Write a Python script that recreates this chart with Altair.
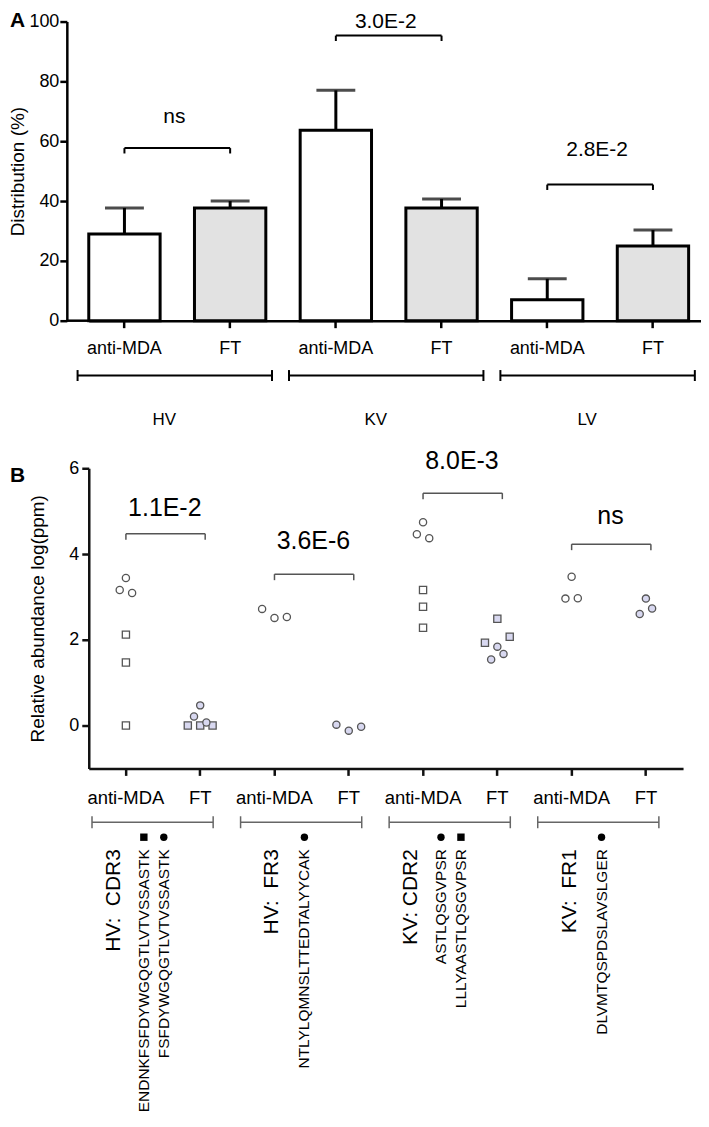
import altair as alt
import pandas as pd

FONT = "Liberation Sans"

# ---------------- Panel A data ----------------
a_groups = ["HV", "HV", "KV", "KV", "LV", "LV"]
a_conds = ["anti-MDA", "FT", "anti-MDA", "FT", "anti-MDA", "FT"]
a_means = [29.0, 37.7, 63.7, 37.7, 7.0, 25.0]
a_errs = [8.7, 2.3, 13.3, 3.0, 7.0, 5.3]
a_pairs = ["HV", "KV", "LV"]
a_bracket_y = [57.7, 95.3, 45.5]
a_label_y = [68.0, 100.0, 57.0]
a_pvalues = ["ns", "3.0E-2", "2.8E-2"]

# ---------------- Panel B data ----------------
b_pairs = ["HV CDR3", "HV FR3", "KV CDR2", "KV FR1"]
b_conds = ["anti-MDA", "FT"]
b_pt_pair = (["HV CDR3"] * 12 + ["HV FR3"] * 6 + ["KV CDR2"] * 12 + ["KV FR1"] * 6)
b_pt_cond = (["anti-MDA"] * 6 + ["FT"] * 6 + ["anti-MDA"] * 3 + ["FT"] * 3
             + ["anti-MDA"] * 6 + ["FT"] * 6 + ["anti-MDA"] * 3 + ["FT"] * 3)
b_pt_value = [2.12, 1.47, 0.0, 3.44, 3.16, 3.09,
              0.0, 0.0, 0.0, 0.47, 0.21, 0.07,
              2.72, 2.51, 2.53,
              0.02, -0.12, -0.03,
              3.16, 2.77, 2.28, 4.74, 4.46, 4.37,
              2.49, 2.07, 1.93, 1.84, 1.67, 1.54,
              3.47, 2.96, 2.97,
              2.96, 2.73, 2.60]
b_pt_shape = ["s", "s", "s", "o", "o", "o",
              "s", "s", "s", "o", "o", "o",
              "o", "o", "o",
              "o", "o", "o",
              "s", "s", "s", "o", "o", "o",
              "s", "s", "s", "o", "o", "o",
              "o", "o", "o",
              "o", "o", "o"]
b_pt_slot = [0, 0, 0, 0, -0.5, 0.5,
             -1, 0, 1, 0, -0.5, 0.5,
             -1, 0, 1,
             -1, 0, 1,
             0, 0, 0, 0, -0.5, 0.5,
             0, 1, -1, 0, 0.5, -0.5,
             0, -0.5, 0.5,
             0, 0.5, -0.5]
b_bracket_y = [4.47, 3.53, 5.42, 4.23]
b_label_y = [5.07, 4.30, 6.16, 4.88]
b_pvalues = ["1.1E-2", "3.6E-6", "8.0E-3", "ns"]
b_regions = ["HV:\u00a0 CDR3", "HV:\u00a0 FR3", "KV: CDR2", "KV:\u00a0 FR1"]
b_seqs = [["ENDNKFSFDYWGQGTLVTVSSASTK", "FSFDYWGQGTLVTVSSASTK"],
          ["NTLYLQMNSLTTEDTALYYCAK"],
          ["ASTLQSGVPSR", "LLLYAASTLQSGVPSR"],
          ["DLVMTQSPDSLAVSLGER"]]
b_seq_marks = [["s", "o"], ["o"], ["o", "s"], ["o"]]

# ================= Panel A =================
cat_a = [f"{g}|{c}" for g, c in zip(a_groups, a_conds)]
df_a = pd.DataFrame({"cat": cat_a, "group": a_groups, "cond": a_conds,
                     "mean": a_means, "err": a_errs})
df_a_pairs = pd.DataFrame({"start": [f"{p}|anti-MDA" for p in a_pairs],
                           "end": [f"{p}|FT" for p in a_pairs],
                           "by": a_bracket_y, "ly": a_label_y,
                           "p": a_pvalues, "group": a_pairs})

SHIFT = 22          # panel A's y axis sits 22px left of panel B's
WA, HA = 614, 300
PIN, POUT = 0.325, 0.0585
step_a = WA / (len(cat_a) - PIN + 2 * POUT)
bw_a = step_a * (1 - PIN)
scale_xa = alt.Scale(type="band", domain=cat_a, paddingInner=PIN, paddingOuter=POUT,
                     align=0)
axis_xa = alt.Axis(title=None, labelExpr="split(datum.label, '|')[1]", labelAngle=0,
                   labelFontSize=18, labelColor="black", labelPadding=12,
                   tickSize=7, tickWidth=2.5, tickColor="black",
                   domainWidth=2.5, domainColor="black", grid=False, labelFont=FONT)
scale_ya = alt.Scale(domain=[0, 100], nice=False, zero=True)
axis_ya = alt.Axis(title="Distribution (%)", values=[0, 20, 40, 60, 80, 100],
                   offset=SHIFT,
                   labelFontSize=18, labelColor="black", labelPadding=1,
                   titleFontSize=19, titleFontWeight="normal", titleColor="black",
                   titlePadding=1, tickSize=7, tickWidth=2.5, tickColor="black",
                   domainWidth=2.5, domainColor="black", grid=False,
                   labelFont=FONT, titleFont=FONT)


def xa(field):
    return alt.X(f"{field}:N", scale=scale_xa, axis=axis_xa)


def ya(field):
    return alt.Y(f"{field}:Q", scale=scale_ya, axis=axis_ya)


base_a = alt.Chart(df_a)
bars = base_a.mark_bar(stroke="black", strokeWidth=3, width=bw_a).encode(
    x=xa("cat"), y=ya("mean"),
    fill=alt.Fill("cond:N", scale=alt.Scale(domain=["anti-MDA", "FT"],
                                            range=["#ffffff", "#e2e2e2"]), legend=None))
stems = base_a.transform_calculate(top="datum.mean + datum.err").mark_rule(
    color="black", strokeWidth=3).encode(x=xa("cat"), y=ya("mean"), y2="top:Q")
caps = base_a.transform_calculate(top="datum.mean + datum.err").mark_tick(
    color="black", thickness=3, size=39).encode(x=xa("cat"), y=ya("top"))
# the x axis line continues left to meet the offset y axis
axis_ext = alt.Chart(pd.DataFrame({"t": [0]})).mark_rule(
    color="black", strokeWidth=2.5).encode(
    x=alt.value(-SHIFT), x2=alt.value(0), y=alt.value(HA))

base_ap = alt.Chart(df_a_pairs)
br = base_ap.mark_rule(color="black", strokeWidth=2).encode(
    x=xa("start"), x2="end:N", y=ya("by"))
br_l = base_ap.transform_calculate(b2="datum.by - 1.8").mark_rule(
    color="black", strokeWidth=2).encode(x=xa("start"), y=ya("by"), y2="b2:Q")
br_r = base_ap.transform_calculate(b2="datum.by - 1.8").mark_rule(
    color="black", strokeWidth=2).encode(x=xa("end"), y=ya("by"), y2="b2:Q")
plab = base_ap.mark_text(fontSize=21, baseline="middle", font=FONT, color="black",
                         xOffset=50).encode(x=xa("start"), y=ya("ly"), text="p:N")
span = base_ap.mark_rule(color="black", strokeWidth=2, xOffset=-47, x2Offset=42).encode(
    x=xa("start"), x2="end:N", y=alt.value(HA + 55))
span_l = base_ap.mark_rule(color="black", strokeWidth=2, xOffset=-47).encode(
    x=xa("start"), y=alt.value(HA + 49.5), y2=alt.value(HA + 60.5))
span_r = base_ap.mark_rule(color="black", strokeWidth=2, xOffset=42).encode(
    x=xa("end"), y=alt.value(HA + 49.5), y2=alt.value(HA + 60.5))
glab = base_ap.mark_text(fontSize=17, baseline="middle", font=FONT, color="black",
                         xOffset=40).encode(x=xa("start"), y=alt.value(HA + 100), text="group:N")
letter_a = alt.Chart(pd.DataFrame({"t": ["A"]})).mark_text(
    fontSize=21, fontWeight="bold", align="left", baseline="top", font=FONT,
    color="black").encode(x=alt.value(-79), y=alt.value(-12), text="t:N")

panel_a = alt.layer(bars, stems, caps, axis_ext, br, br_l, br_r, plab, span, span_l,
                    span_r, glab, letter_a).properties(width=WA, height=HA)

# ================= Panel B =================
cat_b = [f"{p}|{c}" for p in b_pairs for c in b_conds]
df_b = pd.DataFrame({"cat": [f"{p}|{c}" for p, c in zip(b_pt_pair, b_pt_cond)],
                     "cond": b_pt_cond, "value": b_pt_value,
                     "shape": b_pt_shape, "slot": b_pt_slot})
df_b_pairs = pd.DataFrame({"start": [f"{p}|anti-MDA" for p in b_pairs],
                           "end": [f"{p}|FT" for p in b_pairs],
                           "by": b_bracket_y, "ly": b_label_y, "p": b_pvalues,
                           "region": b_regions,
                           "nseq": [len(s) for s in b_seqs]})
rows_seq = []
for p, seqs, marks in zip(b_pairs, b_seqs, b_seq_marks):
    for i, (s, m) in enumerate(zip(seqs, marks)):
        kind = "single" if len(seqs) == 1 else ("first" if i == 0 else "second")
        rows_seq.append({"start": f"{p}|anti-MDA", "seq": s, "mk": m, "kind": kind})
df_seq = pd.DataFrame(rows_seq)

WB, HB = 596, 301
scale_xb = alt.Scale(type="band", domain=cat_b, paddingInner=0, paddingOuter=0)
axis_xb = alt.Axis(title=None, labelExpr="split(datum.label, '|')[1]", labelAngle=0,
                   labelFontSize=18.5, labelColor="black", labelPadding=13,
                   tickSize=7, tickWidth=2.5, tickColor="#111",
                   domainWidth=2.5, domainColor="#111", grid=False, labelFont=FONT)
scale_yb = alt.Scale(domain=[-1, 6], nice=False, zero=False)
axis_yb = alt.Axis(title="Relative abundance log(ppm)", values=[0, 2, 4, 6],
                   labelFontSize=18, labelColor="black", labelPadding=3,
                   titleFontSize=19, titleFontWeight="normal", titleColor="black",
                   titlePadding=21, tickSize=7, tickWidth=2.5, tickColor="#111",
                   domainWidth=2.5, domainColor="#111", grid=False,
                   labelFont=FONT, titleFont=FONT)


def xb(field):
    return alt.X(f"{field}:N", scale=scale_xb, axis=axis_xb)


def yb(field):
    return alt.Y(f"{field}:Q", scale=scale_yb, axis=axis_yb)


shape_scale = alt.Scale(domain=["o", "s"], range=["circle", "square"])
pts = alt.Chart(df_b).mark_point(filled=True, size=52, stroke="#555555",
                                 strokeWidth=1.3, opacity=1).encode(
    x=xb("cat"),
    xOffset=alt.XOffset("slot:Q", scale=alt.Scale(domain=[-3, 3])),
    y=yb("value"),
    shape=alt.Shape("shape:N", scale=shape_scale, legend=None),
    fill=alt.Fill("cond:N", scale=alt.Scale(domain=["anti-MDA", "FT"],
                                            range=["#ffffff", "#d8d8f0"]), legend=None))

base_bp = alt.Chart(df_b_pairs)
GRAY = "#555555"
bbr = base_bp.mark_rule(color=GRAY, strokeWidth=1.5, x2Offset=5).encode(
    x=xb("start"), x2="end:N", y=yb("by"))
bbr_l = base_bp.transform_calculate(b2="datum.by - 0.14").mark_rule(
    color=GRAY, strokeWidth=1.5).encode(x=xb("start"), y=yb("by"), y2="b2:Q")
bbr_r = base_bp.transform_calculate(b2="datum.by - 0.14").mark_rule(
    color=GRAY, strokeWidth=1.5, xOffset=5).encode(x=xb("end"), y=yb("by"), y2="b2:Q")
bplab = base_bp.mark_text(fontSize=25, baseline="middle", font=FONT, color="black",
                          xOffset=39).encode(x=xb("start"), y=yb("ly"), text="p:N")
SG = "#666666"
bspan = base_bp.mark_rule(color=SG, strokeWidth=1.5, xOffset=-34, x2Offset=13).encode(
    x=xb("start"), x2="end:N", y=alt.value(HB + 54))
bspan_l = base_bp.mark_rule(color=SG, strokeWidth=1.5, xOffset=-34).encode(
    x=xb("start"), y=alt.value(HB + 48), y2=alt.value(HB + 60))
bspan_r = base_bp.mark_rule(color=SG, strokeWidth=1.5, xOffset=13).encode(
    x=xb("end"), y=alt.value(HB + 48), y2=alt.value(HB + 60))

TEXT_TOP = HB + 81
reg2 = base_bp.transform_filter("datum.nseq == 2").mark_text(
    angle=270, align="right", baseline="middle", fontSize=21, font=FONT,
    color="black", xOffset=-12).encode(x=xb("start"), y=alt.value(TEXT_TOP), text="region:N")
reg1 = base_bp.transform_filter("datum.nseq == 1").mark_text(
    angle=270, align="right", baseline="middle", fontSize=21, font=FONT,
    color="black", xOffset=-2).encode(x=xb("start"), y=alt.value(TEXT_TOP), text="region:N")

seq_layers = []
for kind, off in [("first", 18), ("second", 38), ("single", 30)]:
    src = alt.Chart(df_seq).transform_filter(f"datum.kind == '{kind}'")
    seq_layers.append(src.mark_text(
        angle=270, align="right", baseline="middle", fontSize=15.5, font=FONT,
        color="black", xOffset=off).encode(x=xb("start"), y=alt.value(TEXT_TOP), text="seq:N"))
    seq_layers.append(src.mark_point(filled=True, size=55, color="black", opacity=1,
                                     xOffset=off).encode(
        x=xb("start"), y=alt.value(HB + 69),
        shape=alt.Shape("mk:N", scale=shape_scale, legend=None)))

letter_b = alt.Chart(pd.DataFrame({"t": ["B"]})).mark_text(
    fontSize=21, fontWeight="bold", align="left", baseline="top", font=FONT,
    color="black").encode(x=alt.value(-79), y=alt.value(-3), text="t:N")

panel_b = alt.layer(pts, bbr, bbr_l, bbr_r, bplab, bspan, bspan_l, bspan_r,
                    reg2, reg1, *seq_layers, letter_b).properties(width=WB, height=HB)

chart = alt.vconcat(panel_a, panel_b, spacing=21).resolve_scale(
    x="independent", y="independent", fill="independent", shape="independent"
).properties(padding={"left": 0, "top": 0, "right": 0, "bottom": 0}).configure(
    font=FONT, view=alt.ViewConfig(stroke=None))

chart.save("out.html", embed_options={"renderer": "svg", "actions": False})
